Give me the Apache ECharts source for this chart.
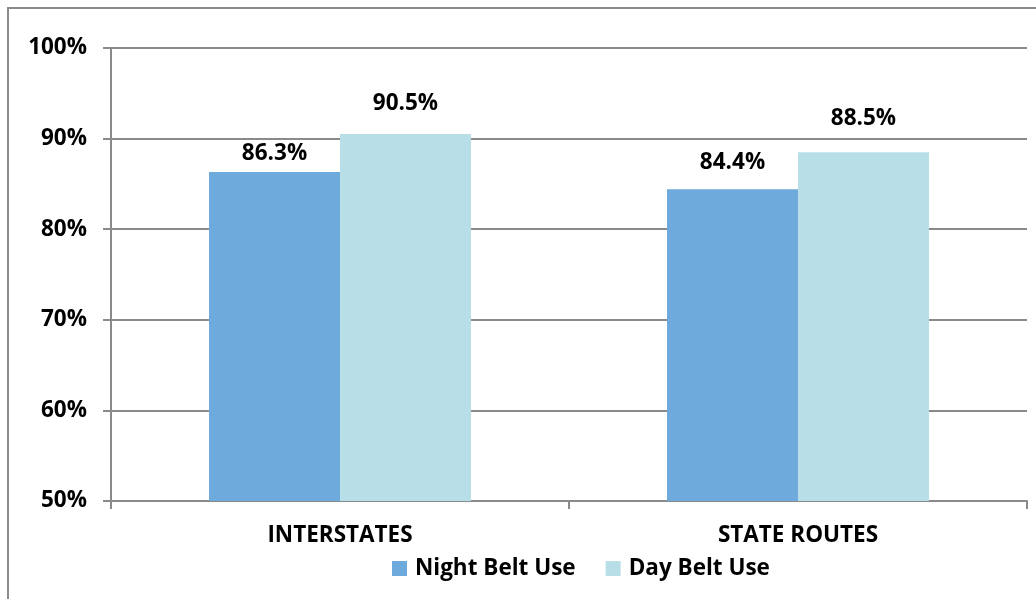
<!DOCTYPE html>
<html><head><meta charset="utf-8">
<script src="https://cdn.jsdelivr.net/npm/echarts@6/dist/echarts.min.js"></script>
<style>html,body{margin:0;padding:0;background:#fff}#c{width:1036px;height:599px}</style>
</head><body><div id="c"></div>
<script>
const categories = ["INTERSTATES", "STATE ROUTES"];
const nightBeltUse = [86.3, 84.4];
const dayBeltUse = [90.5, 88.5];
const seriesNames = ["Night Belt Use", "Day Belt Use"];

const FONT = "Open Sans";
const FS = 22.5;
const nightLabelGap = [7, 15];
const dayLabelGap = [19, 22];
const chart = echarts.init(document.getElementById('c'));
const lbl = {show:true, position:'top', formatter: p => p.value.toFixed(1) + '%',
  fontFamily:FONT, fontWeight:'bold', fontSize:FS, color:'#000'};
const mk = (vals, gaps) => vals.map((v, i) => ({value:v, label:{distance:gaps[i]}}));
chart.setOption({
  animation:false,
  textStyle:{fontFamily:FONT},
  graphic:[{type:'rect', shape:{x:8,y:8,width:1100,height:700}, style:{fill:'none', stroke:'#8a8a8a', lineWidth:2}, z:-1}],
  grid:{left:111, right:9, top:48, bottom:98},
  legend:{bottom:19, left:392, padding:0, itemWidth:15, itemHeight:15, itemGap:30, icon:'rect',
    textStyle:{fontFamily:FONT, fontWeight:'bold', fontSize:FS, color:'#000', padding:[0,0,0,3]}, data:seriesNames},
  xAxis:{type:'category', data:categories,
    axisLine:{lineStyle:{color:'#8a8a8a', width:2}},
    axisTick:{show:true, length:8, lineStyle:{color:'#8a8a8a', width:2}},
    axisLabel:{margin:23, fontFamily:FONT, fontWeight:'bold', fontSize:FS, color:'#000'}},
  yAxis:{type:'value', min:50, max:100, interval:10,
    axisLine:{show:true, lineStyle:{color:'#8a8a8a', width:2}},
    axisTick:{show:true, length:8, lineStyle:{color:'#8a8a8a', width:2}},
    splitLine:{lineStyle:{color:'#8a8a8a', width:2}},
    axisLabel:{margin:24, formatter:'{value}%', fontFamily:FONT, fontWeight:'bold', fontSize:FS, color:'#000'}},
  series:[
    {name:seriesNames[0], type:'bar', data:mk(nightBeltUse, nightLabelGap), barGap:'0%', barCategoryGap:'42.8%',
     itemStyle:{color:'#6EAADC'}, label:lbl},
    {name:seriesNames[1], type:'bar', data:mk(dayBeltUse, dayLabelGap), barGap:'0%', barCategoryGap:'42.8%',
     itemStyle:{color:'#B8DEE8'}, label:lbl}
  ]
});
</script></body></html>
